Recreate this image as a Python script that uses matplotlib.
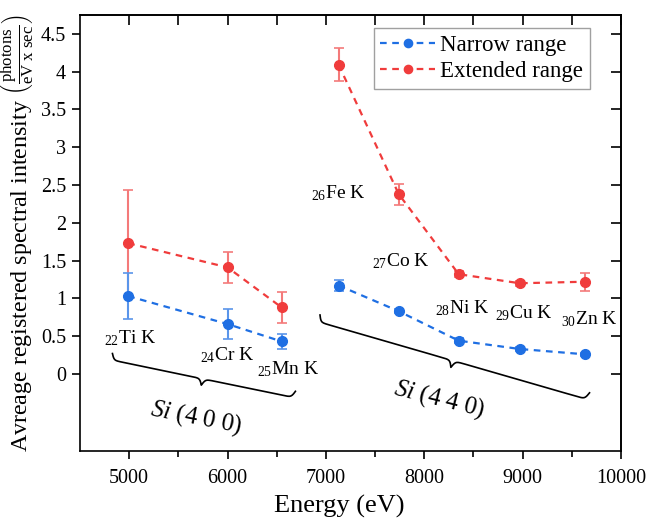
import numpy as np
import matplotlib
matplotlib.use("Agg")
from matplotlib import pyplot as plt

plt.rcParams['font.family'] = ['Liberation Serif', 'DejaVu Serif']
plt.rcParams['mathtext.fontset'] = 'custom'
plt.rcParams['mathtext.rm'] = 'Liberation Serif'
plt.rcParams['mathtext.it'] = 'Liberation Serif:italic'

# Si (4 0 0) reflection lines
energy_400 = [4990, 6000, 6550]
narrow_400 = [1.03, 0.66, 0.43]
narrow_400_err = [0.30, 0.20, 0.10]
extended_400 = [1.73, 1.41, 0.88]
extended_400_err = [0.70, 0.21, 0.20]

# Si (4 4 0) reflection lines
energy_440 = [7130, 7740, 8350, 8970, 9630]
narrow_440 = [1.17, 0.83, 0.44, 0.33, 0.26]
narrow_440_err = [0.07, 0.03, 0.03, 0.02, 0.02]
extended_440 = [4.09, 2.38, 1.32, 1.20, 1.22]
extended_440_err = [0.22, 0.14, 0.04, 0.03, 0.12]

line_labels = [r'$_{22}$Ti K', r'$_{24}$Cr K', r'$_{25}$Mn K', r'$_{26}$Fe K',
               r'$_{27}$Co K', r'$_{28}$Ni K', r'$_{29}$Cu K', r'$_{30}$Zn K']
label_pos = [(4740, 0.40), (5720, 0.18), (6300, -0.01), (6850, 2.33),
             (7470, 1.42), (8110, 0.80), (8720, 0.74), (9390, 0.66)]

blue = '#1f6fe3'
red = '#f03c3c'
blue_err = '#5a95ea'
red_err = '#f47a7a'

fig = plt.figure(figsize=(6.49, 5.21), dpi=100)
ax = fig.add_axes([80 / 649, 1 - 451 / 521, 541 / 649, 436 / 521])
ax.set_xlim(4500, 10000)
ax.set_ylim(-1.02, 4.75)

for e, n, ne, x, xe in [(energy_400, narrow_400, narrow_400_err, extended_400, extended_400_err),
                         (energy_440, narrow_440, narrow_440_err, extended_440, extended_440_err)]:
    ax.errorbar(e, x, yerr=xe, fmt='none', ecolor=red_err, elinewidth=1.5, capsize=3.5, capthick=1.2, zorder=2)
    ax.errorbar(e, n, yerr=ne, fmt='none', ecolor=blue_err, elinewidth=1.5, capsize=3.5, capthick=1.2, zorder=2)

ax.plot(energy_400, narrow_400, '--o', color=blue, lw=1.6, ms=7, dashes=(3, 2.5), label='Narrow range', zorder=3)
ax.plot(energy_440, narrow_440, '--o', color=blue, lw=1.6, ms=7, dashes=(3, 2.5), zorder=3)
ax.plot(energy_400, extended_400, '--o', color=red, lw=1.6, ms=7, dashes=(3, 2.5), label='Extended range', zorder=3)
ax.plot(energy_440, extended_440, '--o', color=red, lw=1.6, ms=7, dashes=(3, 2.5), zorder=3)

for lab, (px, py) in zip(line_labels, label_pos):
    ax.text(px, py, lab, fontsize=14, ha='left', va='baseline')


# curly brace drawn in screen space so it keeps its shape
def brace(ax, p1, p2, height=12, beta=0.35):
    a = ax.transData.transform(p1)
    b = ax.transData.transform(p2)
    d = b - a
    L = np.hypot(*d)
    ux = d / L
    nx = np.array([ux[1], -ux[0]])  # points downward for left-to-right
    u = np.linspace(0, L / 2, 200)
    half = height / 2
    yh = half * np.tanh(beta * u) + half * (1 + np.tanh(beta * (u - L / 2)))
    uu = np.concatenate([u, L - u[::-1]])
    yy = np.concatenate([yh, yh[::-1]])
    pts = a[None, :] + uu[:, None] * ux[None, :] + yy[:, None] * nx[None, :]
    dat = ax.transData.inverted().transform(pts)
    ax.plot(dat[:, 0], dat[:, 1], color='black', lw=1.2, clip_on=False)


brace(ax, (4830, 0.27), (6690, -0.23), height=13)
brace(ax, (6940, 0.78), (9680, -0.25), height=14)

ax.text(5680, -0.58, r'$\mathit{Si}$ $(4\ 0\ 0)$', fontsize=18, rotation=-11,
        ha='center', va='center')
ax.text(8150, -0.34, r'$\mathit{Si}$ $(4\ 4\ 0)$', fontsize=18, rotation=-14,
        ha='center', va='center')

ax.set_xticks([5000, 6000, 7000, 8000, 9000, 10000])
ax.set_xticks([5500, 6500, 7500, 8500, 9500], minor=True)
ax.set_yticks(np.arange(0, 4.51, 0.5))
ax.set_yticklabels(['0', '0.5', '1', '1.5', '2', '2.5', '3', '3.5', '4', '4.5'])
ax.tick_params(axis='both', which='both', labelsize=14.5, direction='out', length=6, width=1.2)
ax.tick_params(axis='x', which='minor', length=4)
ax.tick_params(axis='x', which='major', pad=7)
ax.tick_params(axis='y', which='major', pad=4)

# ticks on the top and right sides, pointing inward, no labels
axt = ax.secondary_xaxis('top')
axt.set_xticks([5000, 5500, 6000, 6500, 7000, 7500, 8000, 8500, 9000, 9500, 10000])
axt.tick_params(direction='in', length=7, width=1.2, labeltop=False)
axr = ax.secondary_yaxis('right')
axr.set_yticks(np.arange(0, 4.51, 0.5))
axr.tick_params(direction='in', length=7, width=1.2, labelright=False)

for s in ax.spines.values():
    s.set_linewidth(1.2)
axt.spines['top'].set_linewidth(1.2)
axr.spines['right'].set_linewidth(1.2)

ax.set_xlabel('Energy (eV)', fontsize=19)
ax.xaxis.set_label_coords(0.48, -0.1)
ax.set_ylabel(r'Avreage registered spectral intensity $\left(\frac{\mathrm{photons}}{\mathrm{eV\ x\ sec}}\right)$',
              fontsize=17.3)
ax.yaxis.set_label_coords(-0.08, 0.5)

leg = ax.legend(loc='upper right', bbox_to_anchor=(0.955, 0.985), fontsize=16.5, frameon=True, fancybox=False,
                handlelength=2.4, handletextpad=0.2, borderpad=0.3, labelspacing=0.2, markerscale=0.85,
                borderaxespad=0.3)
leg.get_frame().set_edgecolor('#888888')
leg.get_frame().set_linewidth(1.0)

fig.savefig('out.png', dpi=100)
